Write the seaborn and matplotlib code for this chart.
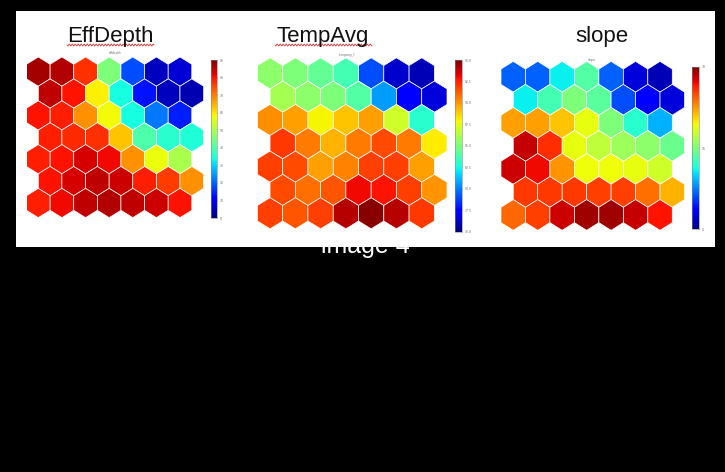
import numpy as np
import pandas as pd
import matplotlib
matplotlib.use('Agg')
import matplotlib.pyplot as plt
import matplotlib.patches as patches
from matplotlib.path import Path
from matplotlib.cm import ScalarMappable
from matplotlib.colors import Normalize
import seaborn as sns

# ─────────────────────────────────────────
# DATA  (7 x 7 SOM component planes, row 0 = top)
# ─────────────────────────────────────────
effdepth = [
    [87, 86, 77, 45, 18, 5, 7],
    [85, 80, 59, 34, 13, 5, 4],
    [80, 79, 68, 58, 34, 22, 14],
    [79, 78, 77, 63, 40, 36, 35],
    [79, 80, 83, 81, 68, 57, 50],
    [80, 83, 85, 84, 79, 76, 68],
    [79, 81, 85, 86, 85, 84, 80],
]
tempavg = [
    [85.4, 85.0, 84.4, 83.6, 79.0, 76.4, 76.0],
    [86.0, 85.4, 85.0, 84.0, 80.6, 77.4, 76.6],
    [90.2, 89.8, 88.0, 89.0, 89.8, 87.0, 83.0],
    [92.0, 90.6, 89.4, 90.6, 91.6, 90.6, 88.2],
    [91.8, 91.6, 89.8, 90.4, 91.8, 91.8, 89.8],
    [91.6, 90.8, 91.4, 93.0, 92.8, 91.8, 90.0],
    [91.8, 91.4, 91.8, 94.0, 94.8, 94.0, 92.0],
]
slope = [
    [6.6, 6.6, 10.8, 13.5, 6.6, 2.4, 1.5],
    [10.8, 12.9, 15.0, 13.8, 6.0, 3.6, 2.4],
    [22.2, 22.2, 21.0, 18.9, 15.0, 12.0, 9.0],
    [28.2, 25.8, 18.9, 17.4, 16.2, 15.6, 14.4],
    [27.9, 27.0, 22.5, 19.2, 19.2, 18.9, 18.0],
    [25.5, 25.5, 25.5, 25.2, 25.2, 23.7, 21.6],
    [24.0, 25.2, 27.9, 29.1, 29.1, 28.2, 26.7],
]

titles    = ['EffDepth', 'TempAvg', 'slope']
subtitles = ['effdepth', 'tempavg_f', 'slope']
effdepth_ticks = [0, 10, 20, 30, 40, 50, 60, 70, 80, 90]
tempavg_ticks  = [75, 77.5, 80, 82.5, 85, 87.5, 90, 92.5, 95]
slope_ticks    = [0, 15, 30]

W, H = 725, 472
JET = matplotlib.colormaps['jet']

def px(x0, y0, x1, y1):
    """pixel box (top-left origin) -> figure fraction rect"""
    return [x0 / W, 1 - y1 / H, (x1 - x0) / W, (y1 - y0) / H]

sns.set_style('white')
plt.rcParams['font.family'] = ['Liberation Sans', 'DejaVu Sans']

fig = plt.figure(figsize=(W / 100, H / 100), dpi=100, facecolor='black')

# caption hidden behind the white slide
fig.text(365 / W, 1 - 253 / H, 'image 4', color='white', fontsize=18,
         ha='center', va='baseline', zorder=0.1)
fig.add_artist(patches.Rectangle((16 / W, 1 - 247 / H), (715 - 16) / W, (247 - 11) / H,
                                 transform=fig.transFigure, facecolor='white',
                                 edgecolor='none', zorder=0.3))

panels = [
    dict(grid=effdepth, ticks=effdepth_ticks,
         hexbox=(26.5, 57, 203.6, 217.6), cbar=(211, 60, 216.7, 218),
         tx=110, sub=(115, 53), wave=(67, 154)),
    dict(grid=tempavg, ticks=tempavg_ticks,
         hexbox=(257.4, 57.8, 447, 228.8), cbar=(455, 60, 461.7, 231.7),
         tx=323, sub=(347, 55), wave=(275, 372)),
    dict(grid=slope, ticks=slope_ticks,
         hexbox=(501, 61.4, 684.5, 230.3), cbar=(692.3, 66.7, 699, 229.3),
         tx=602, sub=(592, 60), wave=None),
]

for i, p in enumerate(panels):
    grid = np.array(p['grid'])
    rows = []
    for r in range(grid.shape[0]):
        for c in range(grid.shape[1]):
            rows.append({'x': c + 0.5 * (r % 2), 'y': r, 'value': grid[r, c]})
    df = pd.DataFrame(rows)

    ax = fig.add_axes(px(*p['hexbox']), zorder=1)
    ax.set_xlim(-0.5, 7.0)
    ax.set_ylim(6 + 2 / 3, -2 / 3)

    # hexagon marker sized from the axes scale
    col_px = ax.transData.transform((1, 0))[0] - ax.transData.transform((0, 0))[0]
    row_px = abs(ax.transData.transform((0, 1))[1] - ax.transData.transform((0, 0))[1])
    w, h = col_px / 2, row_px * 2 / 3
    verts = [(0, h), (w, h / 2), (w, -h / 2), (0, -h), (-w, -h / 2), (-w, h / 2), (0, h)]
    hexmark = Path(verts, closed=True)
    size_pt = 2 * max(w, h) * 72 / fig.dpi

    vmin, vmax = p['ticks'][0], p['ticks'][-1]
    sns.scatterplot(data=df, x='x', y='y', hue='value', palette=JET,
                    hue_norm=(vmin, vmax), marker=hexmark, s=size_pt ** 2,
                    edgecolor='white', linewidth=0.5, legend=False, ax=ax)
    ax.set_xlim(-0.5, 7.0)
    ax.set_ylim(6 + 2 / 3, -2 / 3)
    ax.axis('off')

    # colourbar
    cax = fig.add_axes(px(*p['cbar']), zorder=1)
    sm = ScalarMappable(cmap=JET, norm=Normalize(vmin, vmax))
    cb = fig.colorbar(sm, cax=cax, ticks=p['ticks'])
    cb.outline.set_linewidth(0.4)
    cb.outline.set_edgecolor('#888888')
    cax.tick_params(labelsize=2.5, length=1, width=0.3, colors='#777777', pad=1)

    # slide title + tiny matlab title
    fig.text(p['tx'] / W, 1 - 42 / H, titles[i], fontsize=16, color='#111111',
             ha='center', va='baseline', zorder=1)
    fig.text(p['sub'][0] / W, 1 - p['sub'][1] / H, subtitles[i], fontsize=2.5,
             color='#777777', ha='center', va='center', zorder=1)

    # red spell-check squiggle
    if p['wave'] is not None:
        xs = np.linspace(p['wave'][0], p['wave'][1], 200)
        ys = 45 + 1.0 * np.sin((xs - xs[0]) / 3.0 * 2 * np.pi)
        fig.add_artist(plt.Line2D(xs / W, 1 - ys / H, transform=fig.transFigure,
                                  color='#d23a3a', linewidth=0.6, zorder=1))

fig.savefig('out.png', dpi=100, facecolor=fig.get_facecolor())
